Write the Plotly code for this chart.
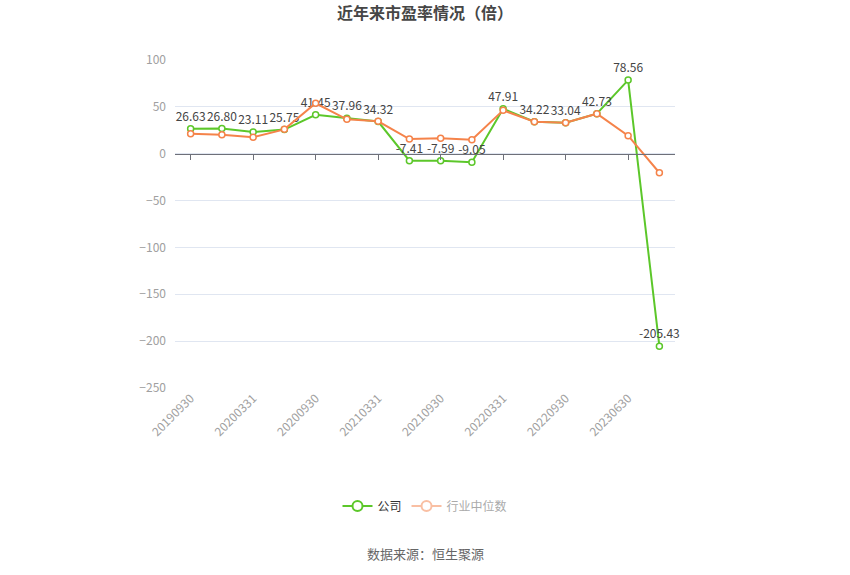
import plotly.graph_objects as go

# quarterly report dates (only every other one is labelled)
dates = ["20190930", "20191231", "20200331", "20200630", "20200930", "20201231",
         "20210331", "20210630", "20210930", "20211231", "20220331", "20220630",
         "20220930", "20221231", "20230630", "20230930"]
company_pe = [26.63, 26.80, 23.11, 25.75, 41.45, 37.96, 34.32, -7.41,
              -7.59, -9.05, 47.91, 34.22, 33.04, 42.73, 78.56, -205.43]
industry_pe = [21.3, 20.3, 17.5, 26.0, 53.8, 36.7, 34.6, 15.7,
               16.4, 14.9, 46.3, 34.1, 33.1, 42.7, 19.2, -20.3]
y_ticks = [-250, -200, -150, -100, -50, 0, 50, 100]

GREEN = "#5cc72a"
ORANGE = "#f5834a"
FONT = "Noto Sans CJK SC"

fig = go.Figure()

fig.add_trace(go.Scatter(
    x=dates, y=company_pe, mode="lines+markers+text",
    line=dict(color=GREEN, width=2),
    marker=dict(symbol="circle", size=6, color="white", line=dict(color=GREEN, width=1.5)),
    text=[f"{v:.2f}" for v in company_pe], textposition="top center",
    textfont=dict(color="#444", size=12, family=FONT),
    showlegend=False, cliponaxis=False,
))
fig.add_trace(go.Scatter(
    x=dates, y=industry_pe, mode="lines+markers",
    line=dict(color=ORANGE, width=2),
    marker=dict(symbol="circle", size=6, color="white", line=dict(color=ORANGE, width=1.5)),
    showlegend=False, cliponaxis=False,
))

# legend entries (industry one shown in its faded state, as in the reference)
fig.add_trace(go.Scatter(
    x=[None], y=[None], mode="lines+markers", name="公司",
    line=dict(color=GREEN, width=2),
    marker=dict(symbol="circle", size=10, color="white", line=dict(color=GREEN, width=2)),
))
fig.add_trace(go.Scatter(
    x=[None], y=[None], mode="lines+markers",
    name="<span style='color:#aaaaaa'>行业中位数</span>",
    line=dict(color="#f9bfa3", width=2),
    marker=dict(symbol="circle", size=10, color="white", line=dict(color="#f9bfa3", width=2)),
))

# axis line at zero with tick marks
fig.add_trace(go.Scatter(x=[None], y=[None], xaxis="x2", showlegend=False, hoverinfo="skip"))

fig.update_layout(
    width=850, height=575,
    margin=dict(l=175, r=175, t=60, b=187),
    paper_bgcolor="white", plot_bgcolor="white",
    font=dict(family=FONT, color="#666"),
    title=dict(text="<b>近年来市盈率情况（倍）</b>", x=0.5, xanchor="center",
               y=1 - 13 / 575, yanchor="middle",
               font=dict(size=16, color="#464646", family=FONT)),
    xaxis=dict(
        type="category", range=[-0.5, len(dates) - 0.5],
        tickvals=dates[::2], ticktext=dates[::2], tickangle=-45,
        showgrid=False, showline=False, ticks="", zeroline=False,
        tickfont=dict(size=12, color="#a0a0a0"),
    ),
    xaxis2=dict(
        overlaying="x", anchor="free", position=250 / 350,
        range=[-0.5, len(dates) - 0.5], tickvals=list(range(0, len(dates), 2)),
        showline=True, linecolor="#6e7079", linewidth=1,
        ticks="outside", ticklen=5, tickcolor="#6e7079",
        showticklabels=False, showgrid=False, zeroline=False,
    ),
    yaxis=dict(
        range=[-250, 100], tickvals=y_ticks, showgrid=True, gridcolor="#e0e6f1",
        zeroline=False, showline=False, ticks="", ticklabelstandoff=8,
        tickfont=dict(size=12, color="#a0a0a0"),
    ),
    legend=dict(orientation="h", x=0.5, xanchor="center", y=(388 - 506) / 328,
                yanchor="middle", font=dict(size=12, color="#333", family=FONT),
                itemwidth=30),
    annotations=[dict(
        text="数据来源：恒生聚源", x=0.5, xref="paper", xanchor="center",
        y=(388 - 553) / 328, yref="paper", yanchor="middle", showarrow=False,
        font=dict(size=13, color="#666", family=FONT),
    )],
)

# page body has a default 8px margin; drop it so the figure sits at the window origin
fig.write_html("out.html", config={"displayModeBar": False},
               post_script="document.body.style.margin='0';")
